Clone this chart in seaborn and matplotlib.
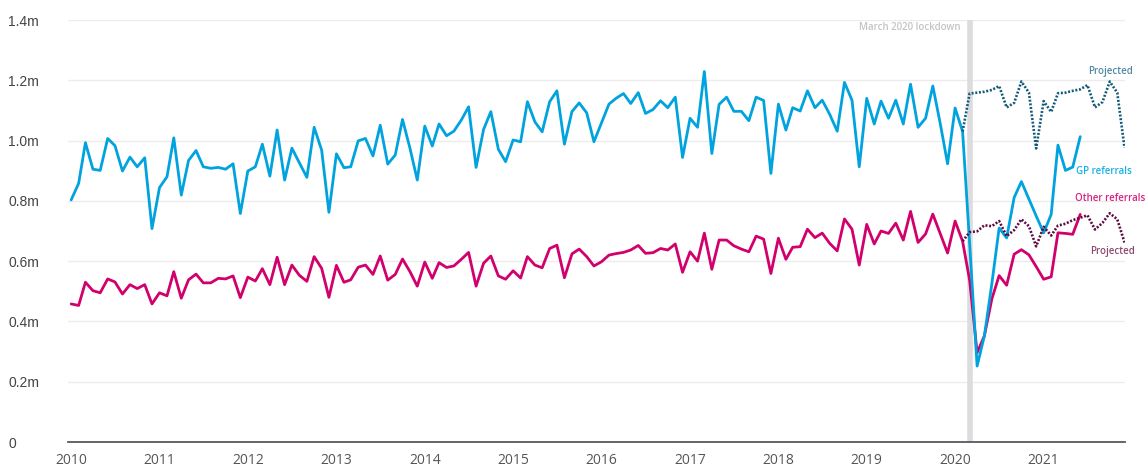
import numpy as np
import pandas as pd
import seaborn as sns
import matplotlib.pyplot as plt
import matplotlib.dates as mdates

# monthly referrals (millions), Jan 2010 - Jun 2021
gp_referrals = [
    0.803, 0.858, 0.993, 0.905, 0.901, 1.007, 0.983, 0.899, 0.945, 0.913, 0.943, 0.708,
    0.844, 0.880, 1.009, 0.819, 0.934, 0.967, 0.913, 0.908, 0.911, 0.905, 0.923, 0.758,
    0.899, 0.913, 0.988, 0.882, 1.035, 0.869, 0.975, 0.926, 0.878, 1.044, 0.968, 0.762,
    0.956, 0.910, 0.913, 0.999, 1.007, 0.949, 1.051, 0.922, 0.952, 1.070, 0.974, 0.869,
    1.048, 0.982, 1.055, 1.016, 1.031, 1.068, 1.112, 0.911, 1.037, 1.096, 0.971, 0.930,
    1.002, 0.996, 1.129, 1.062, 1.029, 1.129, 1.165, 0.988, 1.096, 1.125, 1.092, 0.996,
    1.059, 1.121, 1.140, 1.156, 1.123, 1.159, 1.090, 1.103, 1.132, 1.109, 1.144, 0.944,
    1.074, 1.044, 1.229, 0.957, 1.120, 1.144, 1.097, 1.097, 1.066, 1.144, 1.133, 0.891,
    1.121, 1.035, 1.109, 1.098, 1.165, 1.109, 1.134, 1.087, 1.031, 1.193, 1.134, 0.913,
    1.140, 1.055, 1.131, 1.074, 1.134, 1.055, 1.187, 1.044, 1.074, 1.181, 1.055, 0.923,
    1.108, 1.030, 0.660, 0.252, 0.352, 0.526, 0.710, 0.677, 0.811, 0.864, 0.806, 0.750,
    0.694, 0.755, 0.985, 0.901, 0.912, 1.013,
]
other_referrals = [
    0.458, 0.453, 0.530, 0.502, 0.495, 0.541, 0.531, 0.491, 0.522, 0.509, 0.522, 0.458,
    0.495, 0.485, 0.565, 0.477, 0.538, 0.557, 0.528, 0.528, 0.543, 0.541, 0.551, 0.479,
    0.547, 0.534, 0.575, 0.522, 0.613, 0.522, 0.587, 0.553, 0.533, 0.615, 0.576, 0.480,
    0.586, 0.530, 0.538, 0.580, 0.587, 0.556, 0.617, 0.537, 0.556, 0.607, 0.565, 0.517,
    0.597, 0.543, 0.595, 0.579, 0.584, 0.606, 0.629, 0.517, 0.593, 0.617, 0.551, 0.540,
    0.568, 0.544, 0.615, 0.587, 0.578, 0.642, 0.653, 0.545, 0.624, 0.640, 0.615, 0.584,
    0.598, 0.620, 0.625, 0.629, 0.637, 0.652, 0.626, 0.628, 0.642, 0.637, 0.657, 0.563,
    0.631, 0.600, 0.693, 0.573, 0.670, 0.670, 0.651, 0.640, 0.631, 0.683, 0.673, 0.559,
    0.676, 0.606, 0.646, 0.648, 0.706, 0.678, 0.693, 0.659, 0.634, 0.740, 0.706, 0.587,
    0.722, 0.657, 0.700, 0.692, 0.726, 0.670, 0.765, 0.662, 0.690, 0.756, 0.690, 0.627,
    0.733, 0.666, 0.537, 0.296, 0.352, 0.475, 0.552, 0.520, 0.623, 0.638, 0.621, 0.582,
    0.540, 0.548, 0.694, 0.692, 0.689, 0.755,
]

# projections, Feb 2020 - Dec 2021
gp_projected = [
    1.030, 1.156, 1.159, 1.162, 1.168, 1.181, 1.110, 1.125, 1.196, 1.159, 0.974,
    1.131, 1.095, 1.157, 1.159, 1.165, 1.170, 1.184, 1.110, 1.128, 1.196, 1.159, 0.976,
]
other_projected = [
    0.666, 0.696, 0.699, 0.719, 0.716, 0.733, 0.683, 0.703, 0.739, 0.716, 0.649,
    0.714, 0.685, 0.718, 0.724, 0.736, 0.744, 0.752, 0.705, 0.727, 0.759, 0.739, 0.662,
]

y_ticks = [0, 0.2, 0.4, 0.6, 0.8, 1.0, 1.2, 1.4]
y_labels = ["0", "0.2m", "0.4m", "0.6m", "0.8m", "1.0m", "1.2m", "1.4m"]
years = list(range(2010, 2022))
lockdown = pd.Timestamp("2020-03-01")

actual = pd.DataFrame({
    "date": pd.date_range("2010-01-01", periods=len(gp_referrals), freq="MS"),
    "gp": gp_referrals,
    "other": other_referrals,
})
proj = pd.DataFrame({
    "date": pd.date_range("2020-02-01", periods=len(gp_projected), freq="MS"),
    "gp": gp_projected,
    "other": other_projected,
})

sns.set_style("white")
plt.rcParams["font.family"] = ["Open Sans", "DejaVu Sans"]

fig = plt.figure(figsize=(11.46, 4.70), dpi=100)
ax = fig.add_axes([68 / 1146, 28 / 470, 1057 / 1146, 422 / 470])

blue = "#00a3dd"
pink = "#d1006c"
teal = "#135a78"
maroon = "#5c0b3e"

for t in y_ticks[1:]:
    ax.axhline(t, color="#ececec", lw=1, zorder=0)
ax.axvline(lockdown, color="#dcdcdf", lw=4, zorder=1)

sns.lineplot(data=actual, x="date", y="other", color=pink, lw=2, ax=ax, zorder=3)
sns.lineplot(data=actual, x="date", y="gp", color=blue, lw=2, ax=ax, zorder=4)
sns.lineplot(data=proj, x="date", y="gp", color=teal, lw=1.9, ax=ax, zorder=5,
             linestyle=(0, (0.75, 0.65)))
sns.lineplot(data=proj, x="date", y="other", color=maroon, lw=1.9, ax=ax, zorder=5,
             linestyle=(0, (0.75, 0.65)))

ax.set_xlim(pd.Timestamp("2009-12-19"), pd.Timestamp("2021-12-03"))
ax.set_ylim(0, 1.4)
ax.set_xticks([pd.Timestamp(f"{y}-01-01") for y in years])
ax.xaxis.set_major_formatter(mdates.DateFormatter("%Y"))
ax.set_yticks(y_ticks)
ax.set_yticklabels(y_labels, ha="left", family="Liberation Sans", fontsize=10, color="#444444")
ax.tick_params(axis="y", length=0, pad=43)
ax.tick_params(axis="x", length=0, pad=8, labelsize=10, labelcolor="#555555")
ax.set_xlabel("")
ax.set_ylabel("")

for s in ["top", "right", "left"]:
    ax.spines[s].set_visible(False)
ax.spines["bottom"].set_color("#555a5e")
ax.spines["bottom"].set_linewidth(1.3)
ax.spines["bottom"].set_zorder(6)

kw = dict(xycoords="axes fraction", fontsize=7, fontweight="semibold",
          va="center", annotation_clip=False)
ax.annotate("March 2020 lockdown", (0.8448, 0.983), ha="right", color="#c4c4c4", **kw)
ax.annotate("Projected", (1.0076, 0.877), ha="right", color="#4f8aa3", **kw)
ax.annotate("GP referrals", (0.9536, 0.641), ha="left", color="#1ab0e6", **kw)
ax.annotate("Other referrals", (0.9527, 0.578), ha="left", color="#d9237f", **kw)
ax.annotate("Projected", (1.0095, 0.4526), ha="right", color="#8a4a70", **kw)

fig.savefig("out.png", dpi=100)
